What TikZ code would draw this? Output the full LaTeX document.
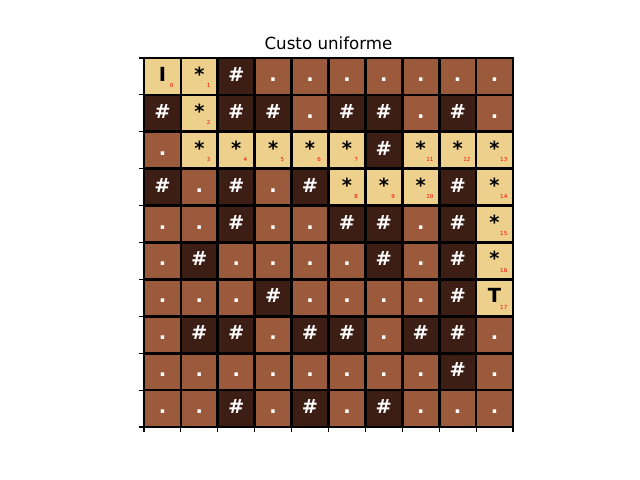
\documentclass[tikz,border=0pt]{standalone}
\usepackage{fontspec}
\setmainfont{DejaVu Sans}
\definecolor{lightc}{RGB}{237,208,139}
\definecolor{midc}{RGB}{156,90,60}
\definecolor{darkc}{RGB}{60,30,20}
\tikzset{
  cell/.style={draw=black, line width=2pt, minimum size=26.57pt, inner sep=0pt,
    text height=10pt, text depth=2.8pt, font=\fontsize{14}{16}\selectfont\bfseries},
  cellw/.style={fill=darkc, text=white, node contents={\#}},
  cellf/.style={fill=midc, text=white, node contents={.}},
  cellp/.style={fill=lightc, text=black, node contents={*}},
  cellI/.style={fill=lightc, text=black, node contents={I}},
  cellT/.style={fill=lightc, text=black, node contents={T}},
  num/.style={text=red, inner sep=0pt, font=\fontsize{4}{4}\selectfont},
  tick/.style={line width=0.8pt, black},
  ttl/.style={font=\fontsize{12}{14}\selectfont, anchor=base}
}
\begin{document}
\begin{tikzpicture}[x=0.72pt, y=-0.72pt]
\useasboundingbox (0,0) rectangle (640,480);
\node[ttl] (title) at (328.5,49.5) {Custo uniforme};
\foreach \row [count=\r from 0] in {
  {I,p,w,f,f,f,f,f,f,f},
  {w,p,w,w,f,w,w,f,w,f},
  {f,p,p,p,p,p,w,p,p,p},
  {w,f,w,f,w,p,p,p,w,p},
  {f,f,w,f,f,w,w,f,w,p},
  {f,w,f,f,f,f,w,f,w,p},
  {f,f,f,w,f,f,f,f,w,T},
  {f,w,w,f,w,w,f,w,w,f},
  {f,f,f,f,f,f,f,f,w,f},
  {f,f,w,f,w,f,w,f,f,f}} {
  \foreach \t [count=\c from 0] in \row {
    \node[cell, name=c\r-\c, at={({144+36.9*(\c+0.5)}, {58+36.9*(\r+0.5)})}, cell\t];
  }
}
\foreach \r/\c/\n in {0/0/0,0/1/1,1/1/2,2/1/3,2/2/4,2/3/5,2/4/6,2/5/7,3/5/8,3/6/9,3/7/10,2/7/11,2/8/12,2/9/13,3/9/14,4/9/15,5/9/16,6/9/17} {
  \node[num] (n\n) at ([shift={(9.2,9.2)}]c\r-\c.center) {\n};
}
\foreach \i in {0,...,10} {
  \draw[tick] (139.1,{58+36.9*\i}) -- (144,{58+36.9*\i});
  \draw[tick] ({144+36.9*\i},427) -- ({144+36.9*\i},431.9);
}
\end{tikzpicture}
\end{document}
